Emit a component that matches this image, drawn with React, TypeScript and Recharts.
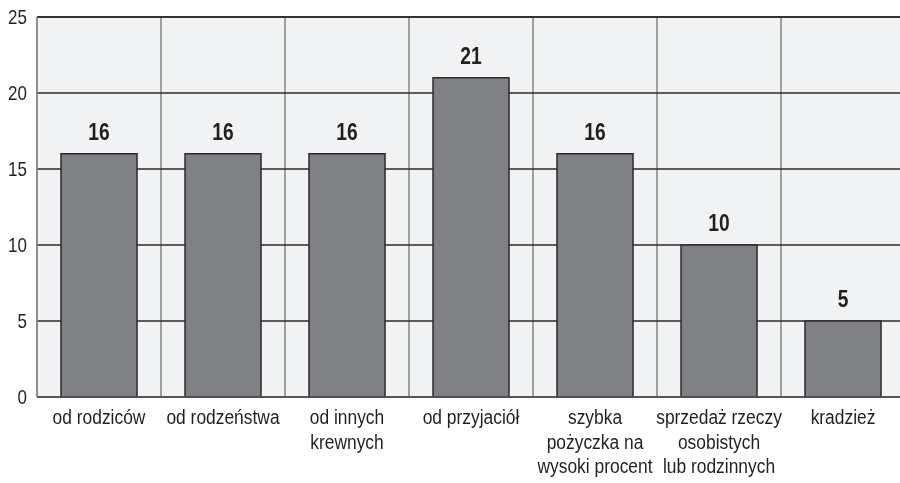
import React from "react";
import { BarChart, Bar, XAxis, YAxis, CartesianGrid, LabelList, ReferenceLine } from "recharts";

const categories = [
  "od rodziców",
  "od rodzeństwa",
  "od innych\nkrewnych",
  "od przyjaciół",
  "szybka\npożyczka na\nwysoki procent",
  "sprzedaż rzeczy\nosobistych\nlub rodzinnych",
  "kradzież",
];
const values = [16, 16, 16, 21, 16, 10, 5];
const yTicks = [0, 5, 10, 15, 20, 25];

const data = categories.map((c, i) => ({ name: c, value: values[i] }));

const FONT = "'Liberation Sans', Arial, sans-serif";
const TEXT = "#231f20";

const CondText = ({ x, y, anchor, size, weight, sx, children }: any) => (
  <text
    transform={`translate(${x},${y}) scale(${sx},1)`}
    x={0}
    y={0}
    textAnchor={anchor}
    fontFamily={FONT}
    fontSize={size}
    fontWeight={weight}
    fill={TEXT}
  >
    {children}
  </text>
);

const XTick = (props: any) => {
  const { x, y, payload } = props;
  const lines = String(payload.value).split("\n");
  return (
    <g>
      {lines.map((l, i) => (
        <CondText key={i} x={x} y={y + 27 + i * 24.5} anchor="middle" size={20} weight="normal" sx={0.87}>
          {l}
        </CondText>
      ))}
    </g>
  );
};

const YTick = (props: any) => {
  const { x, y, payload } = props;
  return (
    <CondText x={x} y={y + 7} anchor="end" size={20} weight="normal" sx={0.85}>
      {payload.value}
    </CondText>
  );
};

const BarLabel = (props: any) => {
  const { x, y, width, value } = props;
  return (
    <CondText x={x + width / 2} y={y - 14} anchor="middle" size={24} weight="bold" sx={0.8}>
      {value}
    </CondText>
  );
};

const verticalGen = ({ offset }: any) => {
  const n = categories.length;
  const pts: number[] = [];
  for (let i = 0; i <= n; i++) pts.push(offset.left + (offset.width * i) / n);
  return pts;
};

export default function App() {
  return (
    <div style={{ position: "fixed", left: 8, top: 0, width: 892, height: 483, overflow: "hidden" }}>
      <BarChart
        width={900}
        height={483}
        data={data}
        margin={{ top: 17, right: 3, bottom: 0, left: 0 }}
      >
        <CartesianGrid
          horizontal={false}
          vertical={true}
          fill="#f1f2f4"
          stroke="#8a8a8a"
          strokeWidth={1.6}
          verticalCoordinatesGenerator={verticalGen}
        />
        <CartesianGrid horizontal={true} vertical={false} stroke="#2a2a2a" strokeWidth={1.3} />
        <XAxis
          dataKey="name"
          interval={0}
          tickLine={false}
          tickSize={0}
          tickMargin={0}
          height={86}
          axisLine={{ stroke: "#555555", strokeWidth: 1.5 }}
          tick={<XTick />}
        />
        <YAxis
          domain={[0, 25]}
          ticks={yTicks}
          width={29}
          tickLine={false}
          tickSize={0}
          tickMargin={10}
          axisLine={{ stroke: "#8a8a8a", strokeWidth: 1.6 }}
          tick={<YTick />}
        />
        <ReferenceLine y={25} stroke="#333333" strokeWidth={2} />
        <Bar
          dataKey="value"
          barSize={76}
          fill="#808185"
          stroke="#2b2b2b"
          strokeWidth={1.5}
          isAnimationActive={false}
        >
          <LabelList dataKey="value" content={<BarLabel />} />
        </Bar>
      </BarChart>
    </div>
  );
}
